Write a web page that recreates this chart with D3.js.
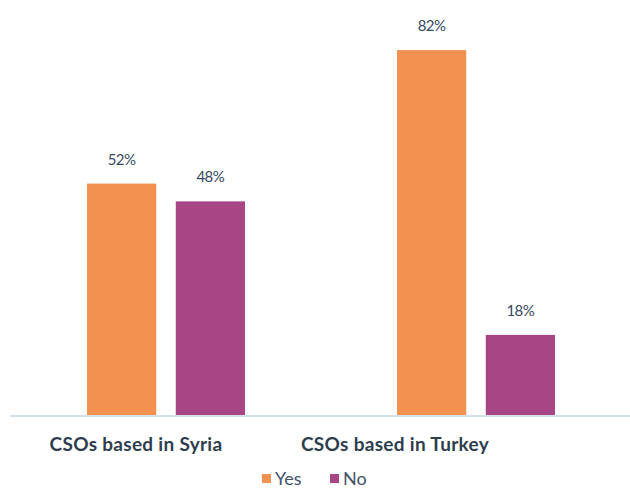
<!DOCTYPE html>
<html>
<head>
<meta charset="utf-8">
<script src="https://cdn.jsdelivr.net/npm/d3@7"></script>
<style>
  body { margin: 0; background: #fff; }
  svg { display: block; font-family: Lato, "Open Sans", sans-serif; }
</style>
</head>
<body>
<svg id="chart" width="630" height="489"></svg>
<script>
// Data
const categories = ['CSOs based in Syria', 'CSOs based in Turkey'];
const seriesNames = ['Yes', 'No'];
const yesValues = [52, 82];
const noValues = [48, 18];

const COLORS = { Yes: '#f29150', No: '#a84585' };

const svg = d3.select('#chart');
const baseY = 415;

// Scales
const x0 = d3.scaleBand().domain(categories).range([10, 630]);
const x1 = d3.scaleBand().domain(seriesNames).range([77, 235]).paddingInner(0.22);
const y = d3.scaleLinear().domain([0, 100]).range([baseY, baseY - 445]);

const rows = categories.map((c, i) => ({
    cat: c,
    values: [{ key: 'Yes', v: yesValues[i] }, { key: 'No', v: noValues[i] }]
}));

// Axis line
svg.append('line')
    .attr('x1', 10).attr('x2', 630)
    .attr('y1', baseY + 1).attr('y2', baseY + 1)
    .attr('stroke', '#d6e0ea').attr('stroke-width', 2);

const groups = svg.selectAll('.grp').data(rows).join('g')
    .attr('transform', d => `translate(${x0(d.cat)},0)`);

groups.selectAll('rect').data(d => d.values).join('rect')
    .attr('x', d => x1(d.key))
    .attr('width', x1.bandwidth())
    .attr('y', d => y(d.v))
    .attr('height', d => baseY - y(d.v))
    .attr('fill', d => COLORS[d.key]);

groups.selectAll('.val').data(d => d.values).join('text')
    .attr('class', 'val')
    .attr('x', d => x1(d.key) + x1.bandwidth() / 2)
    .attr('y', d => y(d.v) - 19)
    .attr('text-anchor', 'middle')
    .style('font-size', '15px')
    .style('fill', '#34495e')
    .style('letter-spacing', '-0.5px')
    .text(d => d.v + '%');

// Category labels (sit left of the bar groups, as in the source)
const labelOffset = [126, 75];
svg.selectAll('.cat').data(categories).join('text')
    .attr('class', 'cat')
    .attr('x', (d, i) => x0(d) + labelOffset[i])
    .attr('y', 451)
    .attr('text-anchor', 'middle')
    .style('font-size', '19px')
    .style('font-weight', 'bold')
    .style('letter-spacing', '0.3px')
    .style('fill', '#2e3d4d')
    .text(d => d);

// Legend
const legend = svg.append('g').attr('transform', 'translate(262,474)');
const items = legend.selectAll('g').data(seriesNames).join('g')
    .attr('transform', (d, i) => `translate(${i * 68},0)`);
items.append('rect').attr('width', 9).attr('height', 9).attr('fill', d => COLORS[d]);
items.append('text')
    .attr('x', 13).attr('y', 11)
    .style('font-size', '18px')
    .style('fill', '#3f5266')
    .text(d => d);
</script>
</body>
</html>
